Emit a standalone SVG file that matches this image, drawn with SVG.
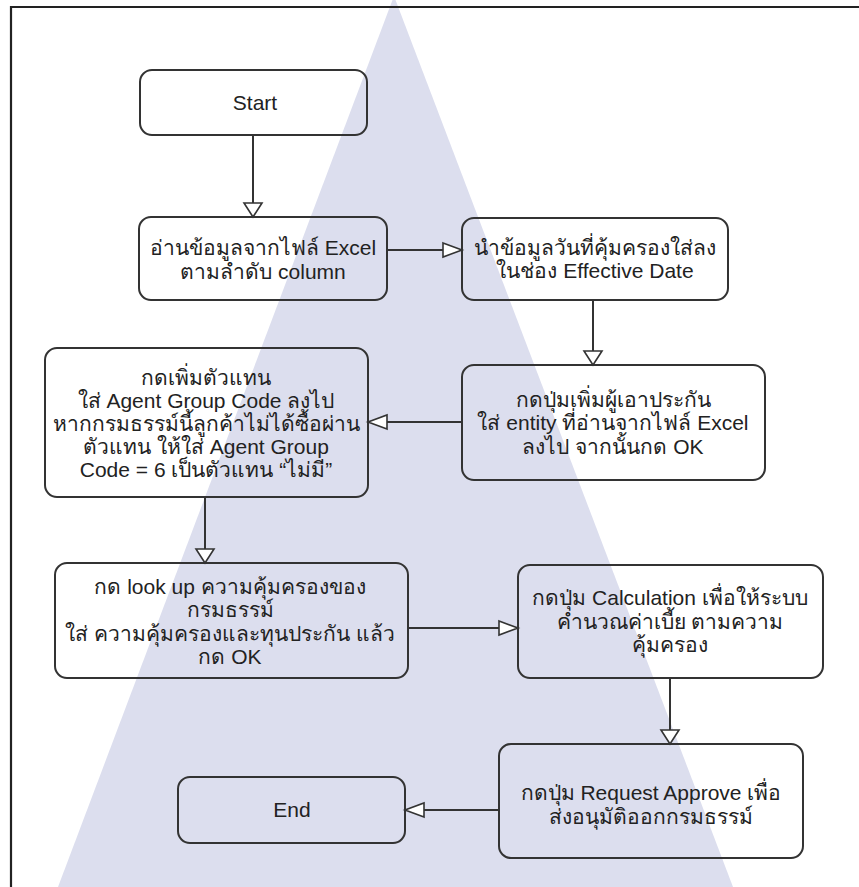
<svg xmlns="http://www.w3.org/2000/svg" width="859" height="887" viewBox="0 0 859 887">
<style>
.node rect{fill:none;stroke:#333;stroke-width:2}
.node text{font-family:"Liberation Sans","Noto Sans",Tahoma,sans-serif;font-size:21px;fill:#222;text-anchor:middle}
.conn path{fill:none;stroke:#333;stroke-width:2}
.wm{fill:#dcdeee}
</style>
<defs>
<marker id="aV" markerUnits="userSpaceOnUse" markerWidth="16" markerHeight="20" refX="14" refY="9" orient="auto" overflow="visible">
<path d="M0,0 L14,9 L0,18 Z" fill="#fff" stroke="#333" stroke-width="1.6"/>
</marker>
<marker id="aH" markerUnits="userSpaceOnUse" markerWidth="22" markerHeight="16" refX="19" refY="7" orient="auto" overflow="visible">
<path d="M0,0 L19,7 L0,14 Z" fill="#fff" stroke="#333" stroke-width="1.6"/>
</marker>
</defs>
<rect x="0" y="0" width="859" height="887" fill="#fff"/>
<g id="watermark">
<polygon class="wm" points="394,-4 58,887 733,887"/>
</g>
<path d="M11,887 V7 H859" fill="none" stroke="#222" stroke-width="2.2"/>
<g id="connectors" class="conn">
<path d="M253,135 V217" marker-end="url(#aV)"/>
<path d="M387,250 H462" marker-end="url(#aH)"/>
<path d="M593,300 V365" marker-end="url(#aV)"/>
<path d="M462,422 H368" marker-end="url(#aH)"/>
<path d="M205,497 V563" marker-end="url(#aV)"/>
<path d="M408,628 H518" marker-end="url(#aH)"/>
<path d="M670,678 V744" marker-end="url(#aV)"/>
<path d="M499,810 H405" marker-end="url(#aH)"/>
</g>
<g id="start" class="node">
<rect x="140" y="70" width="227" height="65" rx="12"/>
<text x="255" y="110">Start</text>
</g>
<g id="read-excel" class="node">
<rect x="139" y="217" width="248" height="83" rx="12"/>
<text x="263" y="255">อ่านข้อมูลจากไฟล์ Excel</text>
<text x="263" y="279">ตามลำดับ column</text>
</g>
<g id="effective-date" class="node">
<rect x="462" y="218" width="266" height="82" rx="12"/>
<text x="595" y="255">นำข้อมูลวันที่คุ้มครองใส่ลง</text>
<text x="595" y="278">ในช่อง Effective Date</text>
</g>
<g id="add-insured" class="node">
<rect x="462" y="365" width="303" height="115" rx="12"/>
<text x="613" y="407">กดปุ่มเพิ่มผู้เอาประกัน</text>
<text x="613" y="430">ใส่ entity ที่อ่านจากไฟล์ Excel</text>
<text x="613" y="454">ลงไป จากนั้นกด OK</text>
</g>
<g id="add-agent" class="node">
<rect x="45" y="348" width="323" height="149" rx="12"/>
<text x="206" y="385">กดเพิ่มตัวแทน</text>
<text x="206" y="408">ใส่ Agent Group Code ลงไป</text>
<text x="206" y="431">หากกรมธรรม์นี้ลูกค้าไม่ได้ซื้อผ่าน</text>
<text x="206" y="454">ตัวแทน ให้ใส่ Agent Group</text>
<text x="206" y="477">Code = 6 เป็นตัวแทน “ไม่มี”</text>
</g>
<g id="lookup-coverage" class="node">
<rect x="55" y="563" width="353" height="115" rx="12"/>
<text x="230" y="594">กด look up ความคุ้มครองของ</text>
<text x="230" y="617">กรมธรรม์</text>
<text x="230" y="641">ใส่ ความคุ้มครองและทุนประกัน แล้ว</text>
<text x="230" y="664">กด OK</text>
</g>
<g id="calculation" class="node">
<rect x="518" y="565" width="305" height="113" rx="12"/>
<text x="670" y="605">กดปุ่ม Calculation เพื่อให้ระบบ</text>
<text x="670" y="629">คำนวณค่าเบี้ย ตามความ</text>
<text x="670" y="652">คุ้มครอง</text>
</g>
<g id="request-approve" class="node">
<rect x="499" y="744" width="304" height="114" rx="12"/>
<text x="651" y="800">กดปุ่ม Request Approve เพื่อ</text>
<text x="651" y="824">ส่งอนุมัติออกกรมธรรม์</text>
</g>
<g id="end" class="node">
<rect x="178" y="777" width="227" height="66" rx="12"/>
<text x="292" y="817">End</text>
</g>
</svg>
